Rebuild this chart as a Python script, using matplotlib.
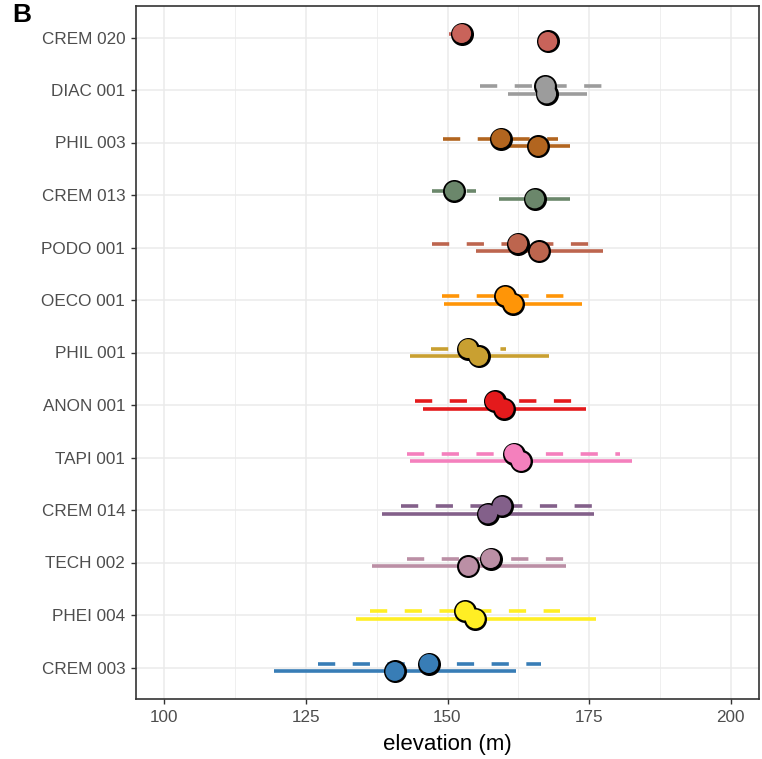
import matplotlib
matplotlib.use("Agg")
import matplotlib.pyplot as plt
import numpy as np

plt.rcParams['font.family'] = ['Liberation Sans', 'DejaVu Sans']
plt.rcParams['lines.scale_dashes'] = False

# sites, top to bottom
sites = ["CREM 020", "DIAC 001", "PHIL 003", "CREM 013", "PODO 001", "OECO 001",
         "PHIL 001", "ANON 001", "TAPI 001", "CREM 014", "TECH 002", "PHEI 004", "CREM 003"]
colors = ["#C9635A", "#9C9C9C", "#B2651F", "#6B876B", "#BD654E", "#FF9507",
          "#C9A031", "#E41A1C", "#F480BD", "#83608A", "#BB8FA5", "#FFEE24", "#387DB6"]

# dashed series (drawn slightly above)
dash_mid = [152.5, 167.3, 159.4, 151.2, 162.4, 160.2, 153.6, 158.3, 161.7, 159.6, 157.6, 153.1, 146.7]
dash_lo = [150.3, 155.7, 149.2, 147.3, 147.3, 149.0, 147.0, 144.3, 142.9, 141.8, 142.9, 136.4, 127.2]
dash_hi = [153.0, 177.3, 169.5, 155.1, 175.2, 170.7, 160.4, 172.2, 180.4, 176.0, 170.9, 169.8, 166.5]

# solid series (drawn slightly below)
solid_mid = [167.7, 167.5, 166.0, 165.4, 166.2, 161.6, 155.5, 160.0, 163.0, 157.1, 153.7, 154.9, 140.7]
solid_lo = [167.7, 160.6, 160.7, 159.1, 155.0, 149.4, 143.3, 145.7, 143.3, 138.4, 136.6, 133.8, 119.3]
solid_hi = [167.7, 174.7, 171.6, 171.7, 177.4, 173.7, 168.0, 174.4, 182.6, 175.8, 171.0, 176.3, 162.1]

n = len(sites)
y = np.arange(n)[::-1].astype(float)
off = 0.075

fig = plt.figure(figsize=(7.62, 7.59), dpi=100)
ax = fig.add_axes([136 / 762, 1 - 699 / 759, (759 - 136) / 762, (699 - 6) / 759])

for i in range(n):
    ax.plot([dash_lo[i], dash_hi[i]], [y[i] + off, y[i] + off], color=colors[i], lw=2.6,
            dashes=(12.4, 12.6), solid_capstyle='butt', dash_capstyle='butt', zorder=2)
    ax.plot([solid_lo[i], solid_hi[i]], [y[i] - off, y[i] - off], color=colors[i], lw=2.6,
            solid_capstyle='butt', zorder=2)

# black under-layer, then coloured points on top
ax.scatter(dash_mid, y + off, s=275, color='black', linewidths=0, zorder=3)
ax.scatter(solid_mid, y - off, s=275, color='black', linewidths=0, zorder=3)
ax.scatter(dash_mid, y + off, s=185, color=colors, linewidths=0, zorder=4)
ax.scatter(solid_mid, y - off, s=185, color=colors, linewidths=0, zorder=4)

ax.set_xlim(95, 205)
ax.set_ylim(-0.6, n - 0.4)
ax.set_xticks([100, 125, 150, 175, 200])
ax.set_xticks([112.5, 137.5, 162.5, 187.5], minor=True)
ax.set_yticks(y)
ax.set_yticklabels(sites)

ax.grid(which='major', color='#EBEBEB', lw=1.1, zorder=0)
ax.grid(which='minor', axis='x', color='#EBEBEB', lw=0.55, zorder=0)
ax.set_axisbelow(True)
ax.tick_params(axis='both', which='major', length=3.3, width=1, color='#333333',
               labelsize=12.3, labelcolor='#4D4D4D')
ax.tick_params(axis='y', pad=4.5)
ax.tick_params(axis='x', pad=4.8)
ax.tick_params(axis='x', which='minor', length=0)
for sp in ax.spines.values():
    sp.set_color('#333333')
    sp.set_linewidth(1.2)

ax.set_xlabel('elevation (m)', fontsize=16, color='black', labelpad=6)
fig.text(12 / 762, 1 - 3 / 759, 'B', fontsize=19, fontweight='bold', va='top', ha='left')

fig.savefig('out.png', dpi=100)
